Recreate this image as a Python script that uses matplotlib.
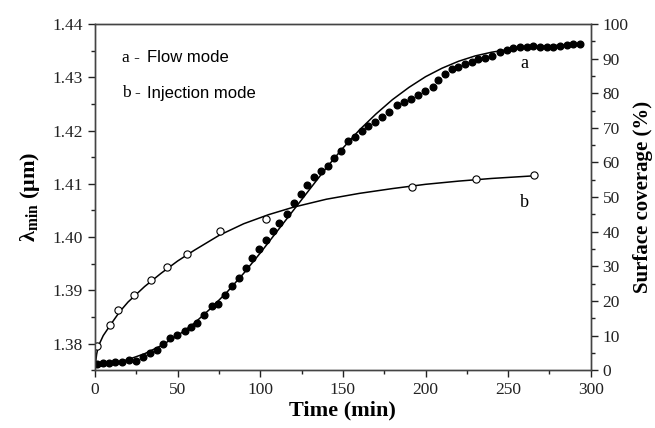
import matplotlib
matplotlib.use("Agg")
import matplotlib.pyplot as plt
from matplotlib.ticker import MultipleLocator

plt.rcParams['font.family'] = ['Liberation Serif', 'DejaVu Serif']
plt.rcParams['mathtext.fontset'] = 'custom'
plt.rcParams['mathtext.rm'] = 'Liberation Serif'
plt.rcParams['mathtext.bf'] = 'Liberation Serif:bold'

# a - flow mode (filled circles), time in min, lambda_min in um
flow_t = [1.4, 5.0, 8.5, 12.1, 16.5, 20.8, 24.8, 28.9, 33.3, 37.3, 41.3, 45.4,
          49.8, 54.4, 57.9, 61.9, 66.1, 70.6, 74.6, 78.6, 83.1, 87.1, 91.2,
          95.2, 99.4, 103.4, 107.5, 111.5, 115.9, 120.6, 124.4, 128.4, 132.5,
          136.5, 140.7, 144.8, 148.8, 153.2, 157.3, 161.3, 165.4, 169.4, 173.4,
          178.0, 182.5, 186.9, 191.2, 195.6, 199.6, 204.3, 207.7, 211.7, 215.8,
          219.8, 223.8, 227.9, 231.9, 235.9, 240.0, 245.0, 249.0, 253.1, 257.1,
          261.2, 265.2, 269.2, 273.3, 277.3, 281.3, 285.4, 289.4, 293.4]
flow_lam = [1.3761, 1.3763, 1.3764, 1.3765, 1.3766, 1.3770, 1.3768, 1.3774,
            1.3783, 1.3788, 1.3800, 1.3811, 1.3817, 1.3823, 1.3831, 1.3838,
            1.3853, 1.3871, 1.3874, 1.3891, 1.3908, 1.3923, 1.3942, 1.3961,
            1.3977, 1.3994, 1.4011, 1.4026, 1.4044, 1.4064, 1.4081, 1.4098,
            1.4113, 1.4124, 1.4133, 1.4148, 1.4162, 1.4181, 1.4188, 1.4200,
            1.4208, 1.4216, 1.4226, 1.4235, 1.4248, 1.4254, 1.4259, 1.4267,
            1.4275, 1.4282, 1.4295, 1.4307, 1.4315, 1.4320, 1.4324, 1.4329,
            1.4334, 1.4337, 1.4340, 1.4347, 1.4351, 1.4354, 1.4356, 1.4357,
            1.4359, 1.4357, 1.4357, 1.4356, 1.4359, 1.4361, 1.4362, 1.4362]

# b - injection mode (open circles)
inj_t = [1.4, 9.1, 14.1, 23.8, 33.9, 43.8, 55.9, 75.6, 103.4, 192.0, 230.7, 265.8]
inj_lam = [1.3796, 1.3835, 1.3863, 1.3891, 1.3919, 1.3943, 1.3968, 1.4011,
           1.4034, 1.4094, 1.4109, 1.4116]

# fitted curves
fit_a_t = [0, 10, 20, 30, 40, 50, 60, 70, 80, 90, 100, 110, 120, 130, 140, 150,
           160, 170, 180, 190, 200, 210, 220, 230, 240, 250, 260, 270, 280, 290, 295]
fit_a_lam = [1.3755, 1.3762, 1.3770, 1.3781, 1.3796, 1.3815, 1.3838, 1.3866,
             1.3897, 1.3932, 1.3970, 1.4010, 1.4050, 1.4090, 1.4130, 1.4167,
             1.4201, 1.4231, 1.4258, 1.4281, 1.4301, 1.4317, 1.4330, 1.4340,
             1.4347, 1.4352, 1.4356, 1.4358, 1.4360, 1.4361, 1.4362]
fit_b_t = [0, 1, 2, 5, 10, 15, 20, 30, 40, 50, 60, 75, 90, 105, 120, 140, 160,
           180, 200, 220, 240, 266]
fit_b_lam = [1.3755, 1.3780, 1.3795, 1.3815, 1.3838, 1.3860, 1.3878, 1.3907,
             1.3932, 1.3955, 1.3975, 1.4003, 1.4025, 1.4042, 1.4056, 1.4071,
             1.4082, 1.4091, 1.4099, 1.4105, 1.4110, 1.4115]

fig, ax = plt.subplots(figsize=(6.55, 4.28), dpi=100)
fig.subplots_adjust(left=0.145, right=0.902, top=0.944, bottom=0.135)

ax.plot(fit_a_t, fit_a_lam, color='black', lw=1.1, zorder=2)
ax.plot(fit_b_t, fit_b_lam, color='black', lw=1.1, zorder=2)
ax.plot(flow_t, flow_lam, 'o', color='black', ms=4.8, zorder=3)
ax.plot(inj_t, inj_lam, 'o', mfc='white', mec='black', mew=0.8, ms=5.2, zorder=3)

ax.set_xlim(0, 300)
ax.set_ylim(1.375, 1.44)
ax.xaxis.set_major_locator(MultipleLocator(50))
ax.xaxis.set_minor_locator(MultipleLocator(25))
ax.yaxis.set_major_locator(MultipleLocator(0.01))
ax.yaxis.set_minor_locator(MultipleLocator(0.005))
ax.yaxis.set_major_formatter(plt.FormatStrFormatter('%.2f'))
ax.tick_params(which='major', direction='out', length=5, width=1, labelsize=12.5, colors='#222222')
ax.tick_params(which='minor', direction='out', length=3, width=1, colors='#222222')
for s in ax.spines.values():
    s.set_color('#444444')
    s.set_linewidth(1)

ax2 = ax.twinx()
ax2.set_ylim(0, 100)
ax2.yaxis.set_major_locator(MultipleLocator(10))
ax2.yaxis.set_minor_locator(MultipleLocator(5))
ax2.tick_params(which='major', direction='out', length=5, width=1, labelsize=12.5, colors='#222222')
ax2.tick_params(which='minor', direction='out', length=3, width=1, colors='#222222')
for s in ax2.spines.values():
    s.set_color('#444444')
    s.set_linewidth(1)

ax.set_xlabel('Time (min)', fontsize=16, fontweight='bold', labelpad=2)
ax.set_ylabel(r'λ$_{\mathbf{min}}$ (μm)', fontsize=16, fontweight='bold', labelpad=8)
ax2.set_ylabel('Surface coverage (%)', fontsize=15, fontweight='bold', labelpad=3)

ax.text(0.055, 0.902, 'a - ', transform=ax.transAxes, fontsize=12.5, va='center')
ax.text(0.105, 0.902, 'Flow mode', transform=ax.transAxes, fontsize=12,
        family='Liberation Sans', va='center')
ax.text(0.055, 0.800, 'b - ', transform=ax.transAxes, fontsize=12.5, va='center')
ax.text(0.105, 0.800, 'Injection mode', transform=ax.transAxes, fontsize=12,
        family='Liberation Sans', va='center')

ax.text(260, 1.4325, 'a', fontsize=13, ha='center', va='center')
ax.text(260, 1.4065, 'b', fontsize=13, ha='center', va='center')

fig.savefig('out.png', dpi=100)
